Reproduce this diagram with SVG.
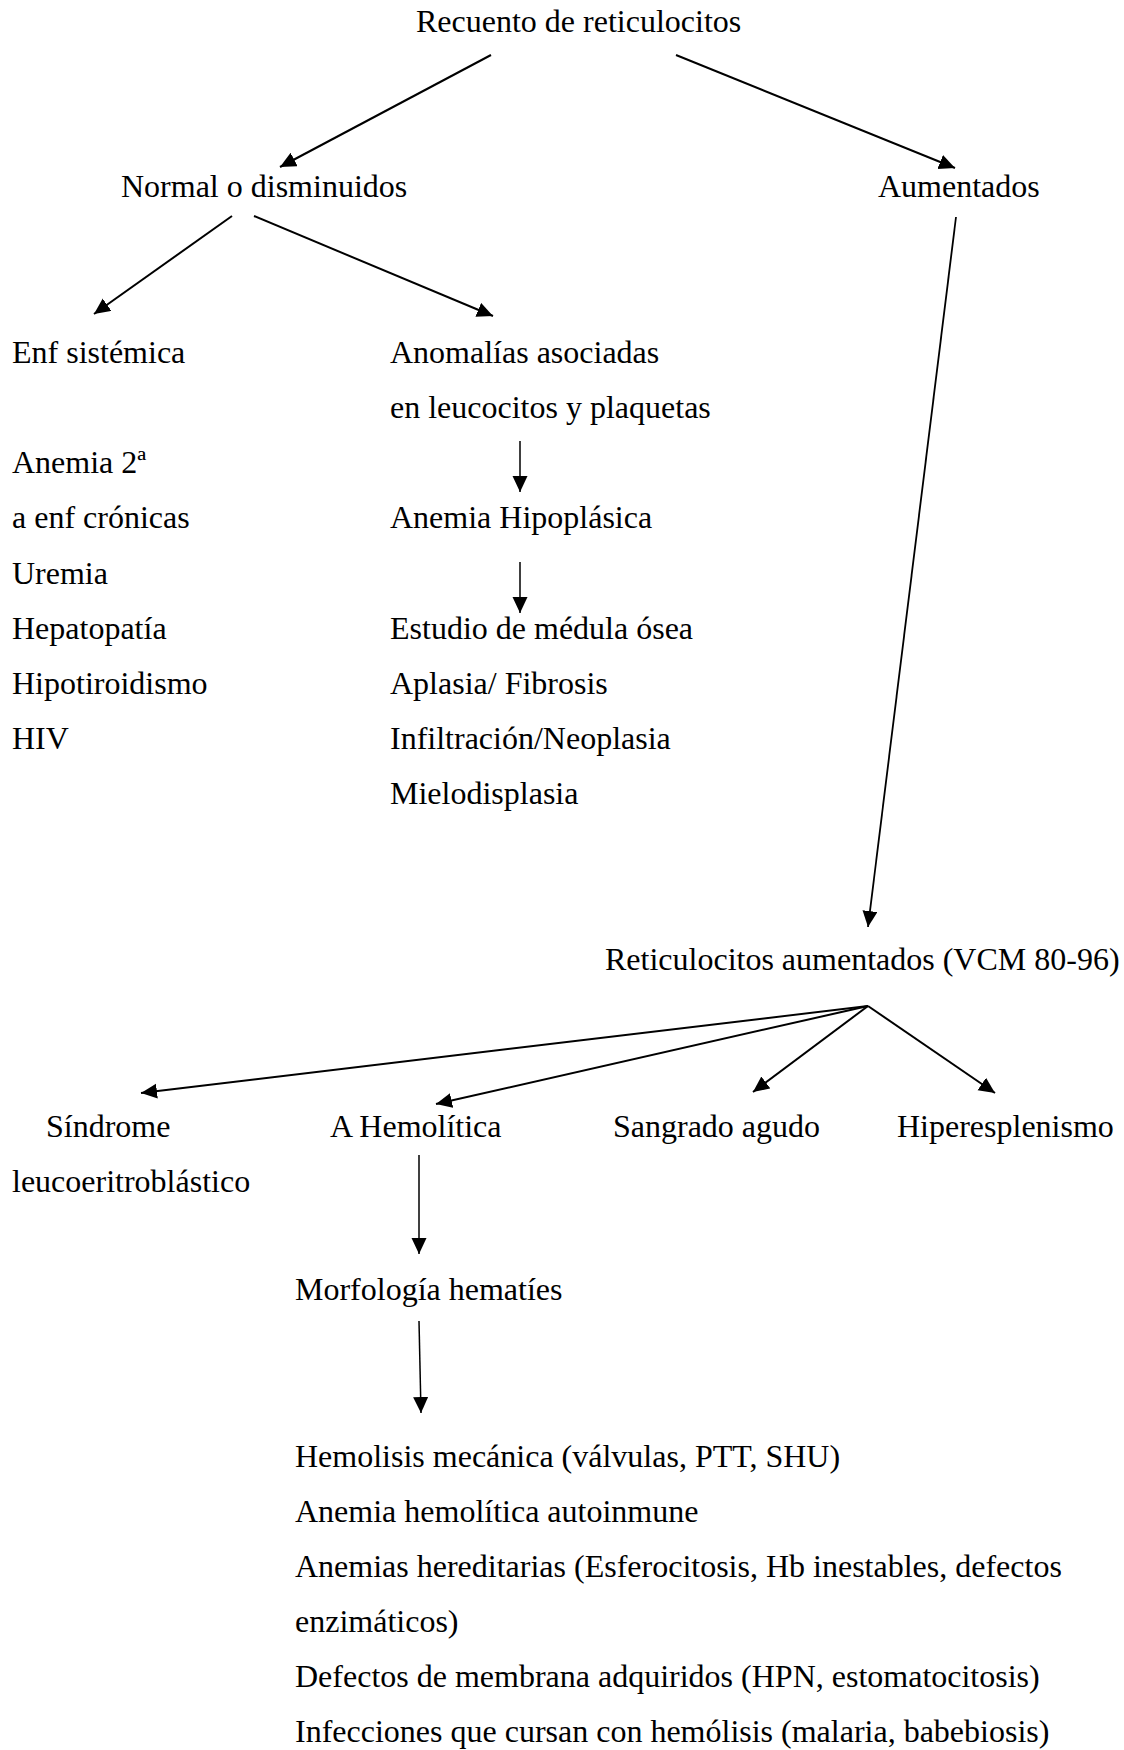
<svg xmlns="http://www.w3.org/2000/svg" width="1124" height="1750" viewBox="0 0 1124 1750">
<style>
text{font-family:"Liberation Serif","Times New Roman",serif;font-size:32px;fill:#000}
.c{fill:none;stroke:#000}
.t{stroke-width:2}
.m{stroke-width:1.8}
.v{stroke-width:1.5}
</style>
<defs>
<marker id="ah" markerUnits="userSpaceOnUse" markerWidth="17" markerHeight="16" refX="16" refY="7.5" orient="auto" viewBox="0 0 17 16">
<path d="M0,0 L16,7.5 L0,15 z" fill="#000"/>
</marker>
</defs>
<rect width="1124" height="1750" fill="#fff"/>
<g id="n-recuento"><text x="416" y="32">Recuento de reticulocitos</text></g>
<g id="n-normal"><text x="121" y="197">Normal o disminuidos</text></g>
<g id="n-aumentados"><text x="878" y="197">Aumentados</text></g>
<g id="n-enf"><text x="12" y="363">Enf sistémica</text>
<text x="12" y="473">Anemia 2ª</text>
<text x="12" y="528">a enf crónicas</text>
<text x="12" y="584">Uremia</text>
<text x="12" y="639">Hepatopatía</text>
<text x="12" y="694">Hipotiroidismo</text>
<text x="12" y="749">HIV</text></g>
<g id="n-anomalias"><text x="390" y="363">Anomalías asociadas</text>
<text x="390" y="418">en leucocitos y plaquetas</text></g>
<g id="n-hipoplasica"><text x="390" y="528">Anemia Hipoplásica</text></g>
<g id="n-medula"><text x="390" y="639">Estudio de médula ósea</text>
<text x="390" y="694">Aplasia/ Fibrosis</text>
<text x="390" y="749">Infiltración/Neoplasia</text>
<text x="390" y="804">Mielodisplasia</text></g>
<g id="n-retaum"><text x="605" y="970">Reticulocitos aumentados (VCM 80-96)</text></g>
<g id="n-sindrome"><text x="46" y="1137">Síndrome</text>
<text x="12" y="1192">leucoeritroblástico</text></g>
<g id="n-hemolitica"><text x="330" y="1137">A Hemolítica</text></g>
<g id="n-sangrado"><text x="613" y="1137">Sangrado agudo</text></g>
<g id="n-hiper"><text x="897" y="1137">Hiperesplenismo</text></g>
<g id="n-morfologia"><text x="295" y="1300">Morfología hematíes</text></g>
<g id="n-lista"><text x="295" y="1467">Hemolisis mecánica (válvulas, PTT, SHU)</text>
<text x="295" y="1522">Anemia hemolítica autoinmune</text>
<text x="295" y="1577">Anemias hereditarias (Esferocitosis, Hb inestables, defectos</text>
<text x="295" y="1632">enzimáticos)</text>
<text x="295" y="1687">Defectos de membrana adquiridos (HPN, estomatocitosis)</text>
<text x="295" y="1742">Infecciones que cursan con hemólisis (malaria, babebiosis)</text></g>
<g id="connectors">
<line class="c t" x1="491" y1="55" x2="280" y2="167" marker-end="url(#ah)"/>
<line class="c t" x1="676" y1="55" x2="955" y2="168" marker-end="url(#ah)"/>
<line class="c t" x1="232" y1="216" x2="94" y2="314" marker-end="url(#ah)"/>
<line class="c t" x1="254" y1="216" x2="493" y2="316" marker-end="url(#ah)"/>
<line class="c m" x1="956" y1="217" x2="868" y2="927" marker-end="url(#ah)"/>
<line class="c v" x1="520" y1="441" x2="520" y2="492" marker-end="url(#ah)"/>
<line class="c v" x1="520" y1="562" x2="520" y2="613" marker-end="url(#ah)"/>
<line class="c t" x1="868" y1="1006" x2="141" y2="1093" marker-end="url(#ah)"/>
<line class="c t" x1="868" y1="1006" x2="436" y2="1104" marker-end="url(#ah)"/>
<line class="c t" x1="868" y1="1006" x2="753" y2="1092" marker-end="url(#ah)"/>
<line class="c t" x1="868" y1="1006" x2="995" y2="1093" marker-end="url(#ah)"/>
<line class="c v" x1="419" y1="1155" x2="419" y2="1254" marker-end="url(#ah)"/>
<line class="c v" x1="419" y1="1321" x2="421" y2="1413" marker-end="url(#ah)"/>
</g>
</svg>
